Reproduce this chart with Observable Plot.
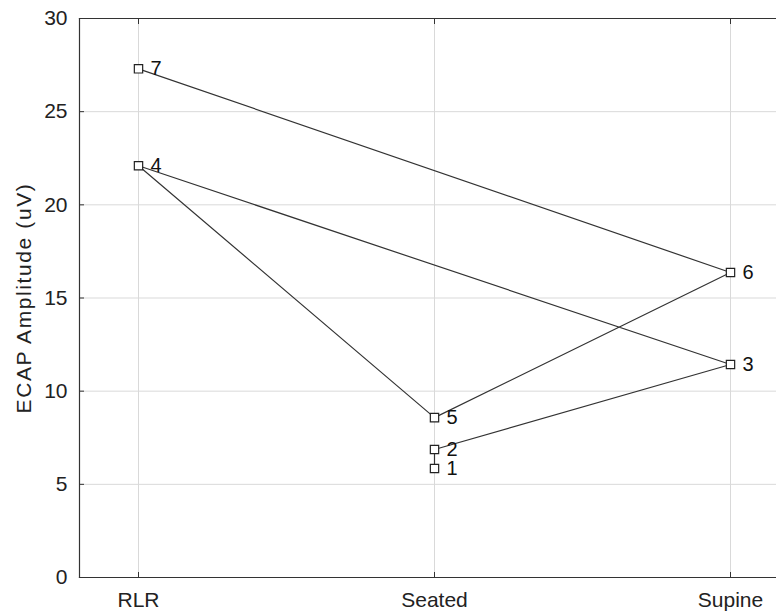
<!DOCTYPE html>
<html>
<head>
<meta charset="utf-8">
<script src="https://cdn.jsdelivr.net/npm/d3@7"></script>
<script src="https://cdn.jsdelivr.net/npm/@observablehq/plot@0.6"></script>
<style>
  html, body { margin: 0; padding: 0; background: #fff; }
  #chart svg { display: block; font-family: "Liberation Sans", Arial, sans-serif; }
</style>
</head>
<body>
<div id="chart"></div>
<script>
const conditions = ["RLR", "Seated", "Supine"];
const subjectIds = ["1", "2", "3", "4", "5", "6", "7"];
const postures = ["Seated", "Seated", "Supine", "RLR", "Seated", "Supine", "RLR"];
const amplitudes = [5.85, 6.87, 11.43, 22.1, 8.58, 16.37, 27.3];
const yTicks = [0, 5, 10, 15, 20, 25, 30];
const yLabel = "ECAP Amplitude (uV)";

const data = subjectIds.map((id, i) => ({id, posture: postures[i], amp: amplitudes[i]}));

const chart = Plot.plot({
  width: 776,
  height: 614,
  marginTop: 18,
  marginBottom: 37,
  marginLeft: 79,
  marginRight: 0,
  style: {fontFamily: "Liberation Sans, Arial, sans-serif", fontSize: "21px", color: "#222", background: "#fff"},
  x: {type: "point", domain: conditions, padding: 0.196, range: [79, 788], label: null},
  y: {domain: [0, 30], label: null},
  marks: [
    Plot.gridY(yTicks, {stroke: "#d9d9d9", strokeOpacity: 1}),
    Plot.gridX(conditions, {stroke: "#d9d9d9", strokeOpacity: 1}),
    Plot.frame({anchor: "left", stroke: "#333", strokeWidth: 1.2}),
    Plot.frame({anchor: "top", stroke: "#333", strokeWidth: 1.2}),
    Plot.frame({anchor: "bottom", stroke: "#333", strokeWidth: 1.2}),
    Plot.axisY(yTicks, {tickSize: 0, tickPadding: 12, fontSize: 21, fill: "#222"}),
    Plot.axisX(conditions, {tickSize: 0, tickPadding: 15, fontSize: 21, fill: "#222"}),
    Plot.axisX(conditions, {anchor: "bottom", tickSize: -5, tickFormat: () => "", stroke: "#333"}),
    Plot.axisX(conditions, {anchor: "top", tickSize: -5, tickFormat: () => "", stroke: "#333"}),
    Plot.axisY(yTicks, {anchor: "left", tickSize: -5, tickFormat: () => "", stroke: "#333"}),
    Plot.text([yLabel], {frameAnchor: "left", textAnchor: "middle", dx: -55, rotate: -90, fontSize: 21, fill: "#222"}),
    Plot.line(data, {x: "posture", y: "amp", stroke: "#333", strokeWidth: 1.2}),
    Plot.dot(data, {x: "posture", y: "amp", symbol: "square", r: 4.7, stroke: "#222", fill: "#fff", strokeWidth: 1.2}),
    Plot.text(data, {x: "posture", y: "amp", text: "id", dx: 12, textAnchor: "start", fontSize: 20, fill: "#111"})
  ]
});
d3.select(chart).selectAll("text").filter(function() { return this.textContent === yLabel; })
  .style("letter-spacing", "1.6px");
document.getElementById("chart").appendChild(chart);
</script>
</body>
</html>
